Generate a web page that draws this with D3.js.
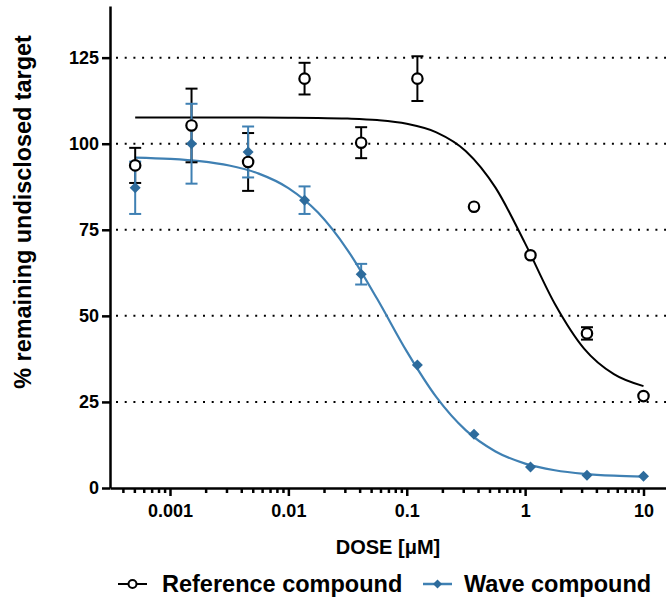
<!DOCTYPE html>
<html lang="en">
<head>
<meta charset="UTF-8">
<title>Dose response</title>
<script src="https://d3js.org/d3.v7.min.js"></script>
<style>
    body { margin: 0; background: #fff; }
    svg { display: block; font-family: "Liberation Sans", Arial, sans-serif; }
    .axis path, .axis line { stroke: #000; stroke-width: 2.5; }
    .axis text { font-size: 18px; font-weight: bold; fill: #000; }
    .grid { stroke: #000; stroke-width: 2; stroke-dasharray: 2 6.7; }
</style>
</head>
<body>
<div id="chart"></div>
<script>
    // measured doses (uM), 3-fold dilution
    const doses = [0.000508, 0.00152, 0.00457, 0.0137, 0.0412, 0.123, 0.370, 1.11, 3.33, 10];
    const refMean = [93.7, 105.3, 94.7, 118.9, 100.3, 118.9, 81.7, 67.6, 44.9, 26.7];
    const refErr = [5.1, 10.7, 8.4, 4.6, 4.5, 6.5, 0, 0, 1.8, 0];
    const waveMean = [87.2, 100.0, 97.6, 83.6, 62.1, 35.7, 15.6, 6.1, 3.7, 3.4];
    const waveErr = [7.6, 11.6, 7.4, 4.0, 3.0, 0, 0, 0, 0, 0];

    // fitted curves
    const curveDoses = [0.000508, 0.001, 0.00178, 0.00316, 0.00562, 0.01, 0.0178, 0.0316, 0.0562,
        0.1, 0.178, 0.316, 0.562, 1, 1.78, 3.16, 5.62, 10];
    const refCurve = [107.6, 107.6, 107.6, 107.59, 107.58, 107.55, 107.48, 107.29, 106.86,
        105.80, 103.32, 97.84, 87.24, 71.05, 53.54, 40.43, 33.07, 29.59];
    const waveCurve = [95.98, 95.58, 94.92, 93.66, 91.32, 87.11, 79.99, 69.12, 54.95,
        39.67, 26.37, 16.72, 10.62, 7.09, 5.16, 4.12, 3.58, 3.30];

    const yTicks = [0, 25, 50, 75, 100, 125];
    const gridValues = [25, 50, 75, 100, 125];
    const xMajor = [0.001, 0.01, 0.1, 1, 10];
    const xLabels = ["0.001", "0.01", "0.1", "1", "10"];

    const blue = "#3f80b3";
    const blueDark = "#2d6b9c";

    const W = 666, H = 599;
    const plot = { left: 110, right: 666, bottom: 488, top: 6 };

    const svg = d3.select("#chart").append("svg")
        .attr("width", W).attr("height", H);

    // log x: 0.001 sits at 170px, 10 at 643.5px; the axis runs the full width
    const x = d3.scaleLog().domain([0.001, 10]).range([170, 643.5]);
    x.domain([x.invert(plot.left), x.invert(plot.right)]).range([plot.left, plot.right]);

    const y = d3.scaleLinear().domain([0, 140]).range([plot.bottom, plot.top]);

    // dotted grid
    svg.selectAll(".grid").data(gridValues).enter().append("line")
        .attr("class", "grid")
        .attr("x1", plot.left + 6).attr("x2", plot.right)
        .attr("y1", d => y(d)).attr("y2", d => y(d));

    // minor x ticks
    const minor = [];
    for (let e = -4; e <= 1; e++) {
        for (let m = 2; m <= 9; m++) {
            const v = m * Math.pow(10, e);
            if (v > x.domain()[0] && v < x.domain()[1]) minor.push(v);
        }
    }
    svg.append("g").attr("class", "axis")
        .attr("transform", "translate(0," + plot.bottom + ")")
        .call(d3.axisBottom(x).tickValues(minor).tickSize(5).tickSizeOuter(0).tickFormat(""))
        .select(".domain").remove();

    svg.append("g").attr("class", "axis")
        .attr("transform", "translate(0," + plot.bottom + ")")
        .call(d3.axisBottom(x).tickValues(xMajor).tickSize(8).tickSizeOuter(0).tickPadding(8)
            .tickFormat((d, i) => xLabels[i]));

    svg.append("g").attr("class", "axis")
        .attr("transform", "translate(" + plot.left + ",0)")
        .call(d3.axisLeft(y).tickValues(yTicks).tickSize(8).tickSizeOuter(0).tickPadding(3));

    // axis titles
    svg.append("text")
        .attr("x", (plot.left + plot.right) / 2).attr("y", 554)
        .attr("text-anchor", "middle")
        .style("font-size", "20px").style("font-weight", "bold")
        .text("DOSE [\u03bcM]");

    svg.append("text")
        .attr("transform", "translate(31,212) rotate(-90)")
        .attr("text-anchor", "middle")
        .style("font-size", "23.4px").style("font-weight", "bold")
        .text("% remaining undisclosed target");

    // curves
    const line = d3.line()
        .x((d, i) => x(curveDoses[i]))
        .y(d => y(d))
        .curve(d3.curveMonotoneX);

    svg.append("path").datum(refCurve)
        .attr("d", line).attr("fill", "none")
        .attr("stroke", "#000").attr("stroke-width", 2);

    svg.append("path").datum(waveCurve)
        .attr("d", line).attr("fill", "none")
        .attr("stroke", blue).attr("stroke-width", 2.2);

    function errorBars(mean, err, color) {
        const g = svg.append("g").attr("stroke", color).attr("stroke-width", 2);
        doses.forEach((d, i) => {
            if (!err[i]) return;
            const cx = x(d), y1 = y(mean[i] + err[i]), y2 = y(mean[i] - err[i]);
            g.append("line").attr("x1", cx).attr("x2", cx).attr("y1", y1).attr("y2", y2);
            g.append("line").attr("x1", cx - 6).attr("x2", cx + 6).attr("y1", y1).attr("y2", y1);
            g.append("line").attr("x1", cx - 6).attr("x2", cx + 6).attr("y1", y2).attr("y2", y2);
        });
    }

    errorBars(refMean, refErr, "#000");
    errorBars(waveMean, waveErr, blue);

    const diamond = "M0,-5.5L5.5,0L0,5.5L-5.5,0Z";

    svg.append("g").selectAll("path").data(waveMean).enter().append("path")
        .attr("d", diamond)
        .attr("transform", (d, i) => "translate(" + x(doses[i]) + "," + y(d) + ")")
        .attr("fill", blueDark);

    svg.append("g").selectAll("circle").data(refMean).enter().append("circle")
        .attr("cx", (d, i) => x(doses[i]))
        .attr("cy", d => y(d))
        .attr("r", 5.2)
        .attr("fill", "#fff").attr("stroke", "#000").attr("stroke-width", 2.2);

    // legend
    const leg = svg.append("g").style("font-size", "23.5px").style("font-weight", "bold");
    leg.append("line").attr("x1", 118).attr("x2", 147).attr("y1", 584).attr("y2", 584)
        .attr("stroke", "#000").attr("stroke-width", 2);
    leg.append("circle").attr("cx", 132.5).attr("cy", 584).attr("r", 4)
        .attr("fill", "#fff").attr("stroke", "#000").attr("stroke-width", 2);
    leg.append("text").attr("x", 162).attr("y", 592).text("Reference compound");

    leg.append("line").attr("x1", 423).attr("x2", 452).attr("y1", 584).attr("y2", 584)
        .attr("stroke", blue).attr("stroke-width", 2.5);
    leg.append("path").attr("d", "M0,-4.5L4.5,0L0,4.5L-4.5,0Z")
        .attr("transform", "translate(437.5,584)").attr("fill", blueDark);
    leg.append("text").attr("x", 464).attr("y", 592).text("Wave compound");
</script>
</body>
</html>
